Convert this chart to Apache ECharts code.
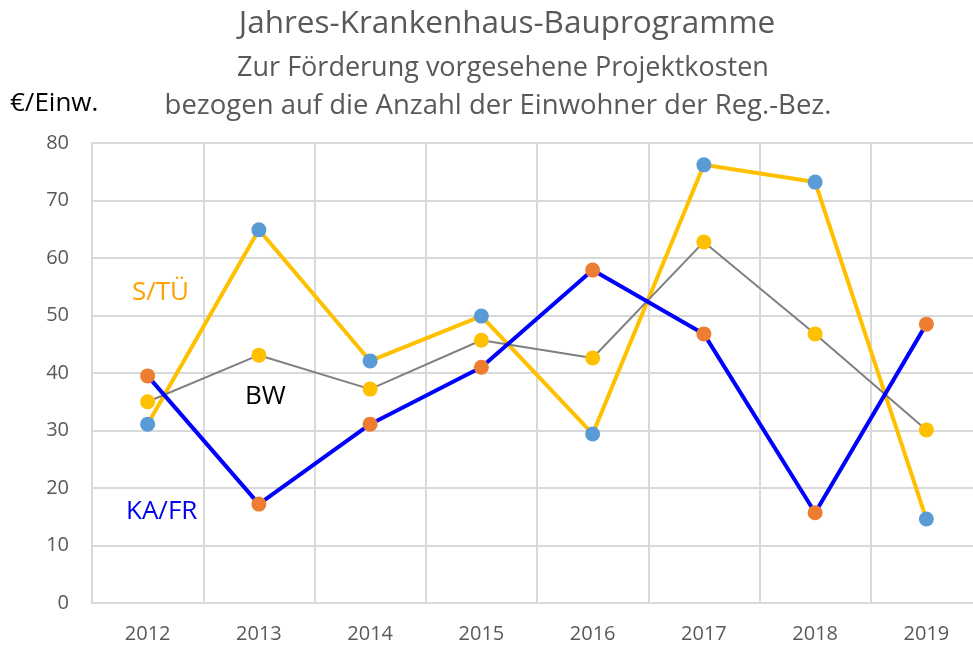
<!DOCTYPE html>
<html>
<head>
<meta charset="utf-8">
<script src="https://cdn.jsdelivr.net/npm/echarts@6/dist/echarts.min.js"></script>
<style>
  html, body { margin: 0; padding: 0; background: #fff; }
  #chart { width: 973px; height: 645px; }
</style>
</head>
<body>
<div id="chart"></div>
<script>
// Jahre
var years = ["2012", "2013", "2014", "2015", "2016", "2017", "2018", "2019"];
// Werte in €/Einw.
var stue = [31.1, 64.9, 42.1, 49.9, 29.4, 76.2, 73.2, 14.6];
var bw = [35.0, 43.1, 37.2, 45.7, 42.6, 62.8, 46.8, 30.1];
var kafr = [39.5, 17.2, 31.1, 41.0, 57.9, 46.8, 15.7, 48.5];

var font = "'Open Sans', 'Noto Sans', sans-serif";
var chart = echarts.init(document.getElementById("chart"));

function lineSerie(name, data, lineColor, width, dotColor, z) {
  return {
    type: "line",
    name: name,
    data: data,
    z: z,
    symbol: "circle",
    symbolSize: 15,
    lineStyle: { color: lineColor, width: width },
    itemStyle: { color: dotColor },
    emphasis: { disabled: true },
    animation: false
  };
}

var option = {
  backgroundColor: "#fff",
  title: [
    {
      text: "Jahres-Krankenhaus-Bauprogramme",
      left: 502, top: 3, textAlign: "center",
      textStyle: { fontFamily: font, fontSize: 31.5, fontWeight: "normal", color: "#595959" }
    },
    {
      text: "Zur Förderung vorgesehene Projektkosten",
      left: 498, top: 50, textAlign: "center",
      textStyle: { fontFamily: font, fontSize: 27, fontWeight: "normal", color: "#595959" }
    },
    {
      text: "bezogen auf die Anzahl der Einwohner der Reg.-Bez.",
      left: 493, top: 87, textAlign: "center",
      textStyle: { fontFamily: font, fontSize: 27.5, fontWeight: "normal", color: "#595959" }
    }
  ],
  // Plotfläche reicht rechts etwas über den Rand hinaus
  grid: { left: 92, width: 890, top: 143, bottom: 42, outerBoundsMode: "none" },
  xAxis: {
    type: "category",
    data: years,
    boundaryGap: true,
    axisLine: { lineStyle: { color: "#D9D9D9", width: 2 } },
    axisTick: { show: false },
    splitLine: { show: true, lineStyle: { color: "#D9D9D9", width: 2 } },
    axisLabel: { fontFamily: font, fontSize: 20, color: "#595959", margin: 21 }
  },
  yAxis: {
    type: "value",
    min: 0, max: 80, interval: 10,
    axisLine: { show: true, lineStyle: { color: "#D9D9D9", width: 2 } },
    axisTick: { show: false },
    splitLine: { lineStyle: { color: "#D9D9D9", width: 2 } },
    axisLabel: { fontFamily: font, fontSize: 20, color: "#595959", margin: 23 }
  },
  graphic: [
    { type: "text", left: 10, top: 91, style: { text: "€/Einw.", fontFamily: font, fontSize: 26, fill: "#000" } },
    { type: "text", left: 132, top: 280, style: { text: "S/TÜ", fontFamily: font, fontSize: 26, fill: "#FFA000" } },
    { type: "text", left: 245, top: 384, style: { text: "BW", fontFamily: font, fontSize: 26, fill: "#000" } },
    { type: "text", left: 126, top: 499, style: { text: "KA/FR", fontFamily: font, fontSize: 26, fill: "#0000F0" } }
  ],
  series: [
    lineSerie("S/TÜ", stue, "#FFC000", 4, "#5B9BD5", 2),
    lineSerie("BW", bw, "#808080", 2, "#FFC000", 3),
    lineSerie("KA/FR", kafr, "#0000FF", 4, "#ED7D31", 4)
  ]
};
chart.setOption(option);
</script>
</body>
</html>
